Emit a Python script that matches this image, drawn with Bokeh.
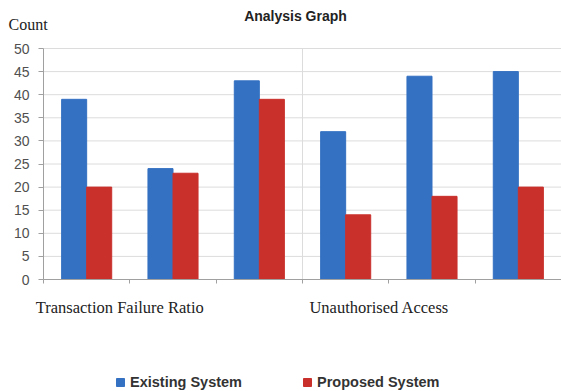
from bokeh.plotting import figure
from bokeh.models import (Range1d, FixedTicker, Label, Legend, LegendItem, ColumnDataSource)
from bokeh.embed import file_html
from bokeh.resources import INLINE

title_text = "Analysis Graph"
y_label = "Count"
groups = ["Transaction Failure Ratio", "Unauthorised Access"]
group_sizes = [3, 3]
series_names = ["Existing System", "Proposed System"]
existing = [39, 24, 43, 32, 44, 45]
proposed = [20, 23, 39, 14, 18, 20]
y_ticks = [0, 5, 10, 15, 20, 25, 30, 35, 40, 45, 50]

BLUE = "#3471c2"
RED = "#c9302c"
GRID = "#dcdcdc"
AXIS = "#a0a0a0"

W, H = 561, 391
# plot-area placement inside the canvas (pixels)
left_px, top_px, bottom_px = 43, 48, 279

n = len(existing)
ymax = y_ticks[-1]
u = (W - left_px) / n                 # pixels per category
v = (bottom_px - top_px) / ymax       # pixels per count
x0, x1 = -left_px / u, n
y0, y1 = -(H - bottom_px) / v, ymax + top_px / v

centers = [i + 0.5 for i in range(n)]
bw = 0.29
src = ColumnDataSource(dict(
    xe=[c - bw / 2 for c in centers],
    xp=[c + bw / 2 for c in centers],
    existing=existing,
    proposed=proposed,
))

p = figure(width=W, height=H, output_backend="svg", toolbar_location=None,
           x_range=Range1d(x0, x1), y_range=Range1d(y0, y1),
           min_border=0)
p.outline_line_color = None
p.background_fill_color = "white"
p.border_fill_color = "white"
p.xgrid.visible = False
p.ygrid.visible = False

# grid lines limited to the plot area
p.segment(x0=[0] * len(y_ticks), x1=[n] * len(y_ticks), y0=y_ticks, y1=y_ticks,
          line_color=GRID, line_width=1)
p.segment(x0=[group_sizes[0]], x1=[group_sizes[0]], y0=[0], y1=[ymax],
          line_color=GRID, line_width=1)

r1 = p.vbar(x="xe", top="existing", width=bw, source=src, fill_color=BLUE,
            line_color=BLUE)
r2 = p.vbar(x="xp", top="proposed", width=bw, source=src, fill_color=RED,
            line_color=RED)

# axes
p.yaxis.fixed_location = 0
p.yaxis.bounds = (0, ymax)
p.yaxis.ticker = FixedTicker(ticks=y_ticks)
p.yaxis.minor_tick_line_color = None
p.yaxis.major_tick_out = 5
p.yaxis.major_tick_in = 0
p.yaxis.axis_line_color = AXIS
p.yaxis.major_tick_line_color = AXIS
p.yaxis.major_label_text_font = "Liberation Sans"
p.yaxis.major_label_text_font_size = "14px"
p.yaxis.major_label_text_color = "#505050"
p.yaxis.major_label_standoff = 9

p.xaxis.fixed_location = 0
p.xaxis.bounds = (0, n)
p.xaxis.ticker = FixedTicker(ticks=list(range(n + 1)))
p.xaxis.major_label_overrides = {i: "" for i in range(n + 1)}
p.xaxis.minor_tick_line_color = None
p.xaxis.major_tick_out = 4
p.xaxis.major_tick_in = 0
p.xaxis.axis_line_color = AXIS
p.xaxis.major_tick_line_color = AXIS

# texts (screen units measured from the canvas's bottom-left corner)
p.add_layout(Label(x=295, y=H - 15, x_units="screen", y_units="screen",
                   text=title_text, text_font="Liberation Sans", text_font_style="bold",
                   text_font_size="14px", text_align="center", text_baseline="middle",
                   text_color="#222222"))
p.add_layout(Label(x=8, y=H - 24, x_units="screen", y_units="screen",
                   text=y_label, text_font="Liberation Serif",
                   text_font_size="16px", text_align="left", text_baseline="middle",
                   text_color="#222222"))
start = 0
label_offsets = [-0.09, 0.08]
for g, size, off in zip(groups, group_sizes, label_offsets):
    p.add_layout(Label(x=start + off, y=H - 307, x_units="data", y_units="screen",
                       text=g, text_font="Liberation Serif",
                       text_font_size="16.5px", text_align="left", text_baseline="middle",
                       text_color="#222222"))
    start += size

legend = Legend(items=[LegendItem(label=series_names[0], renderers=[r1]),
                       LegendItem(label=series_names[1], renderers=[r2])],
                orientation="horizontal", location=(115, 1),
                background_fill_alpha=0, border_line_alpha=0,
                glyph_width=10, glyph_height=10, label_standoff=5, spacing=60,
                padding=0, margin=0,
                label_text_font="Liberation Sans", label_text_font_style="bold",
                label_text_font_size="14.5px", label_text_color="#333333")
p.add_layout(legend, "center")

open("out.html", "w").write(file_html(p, INLINE))
